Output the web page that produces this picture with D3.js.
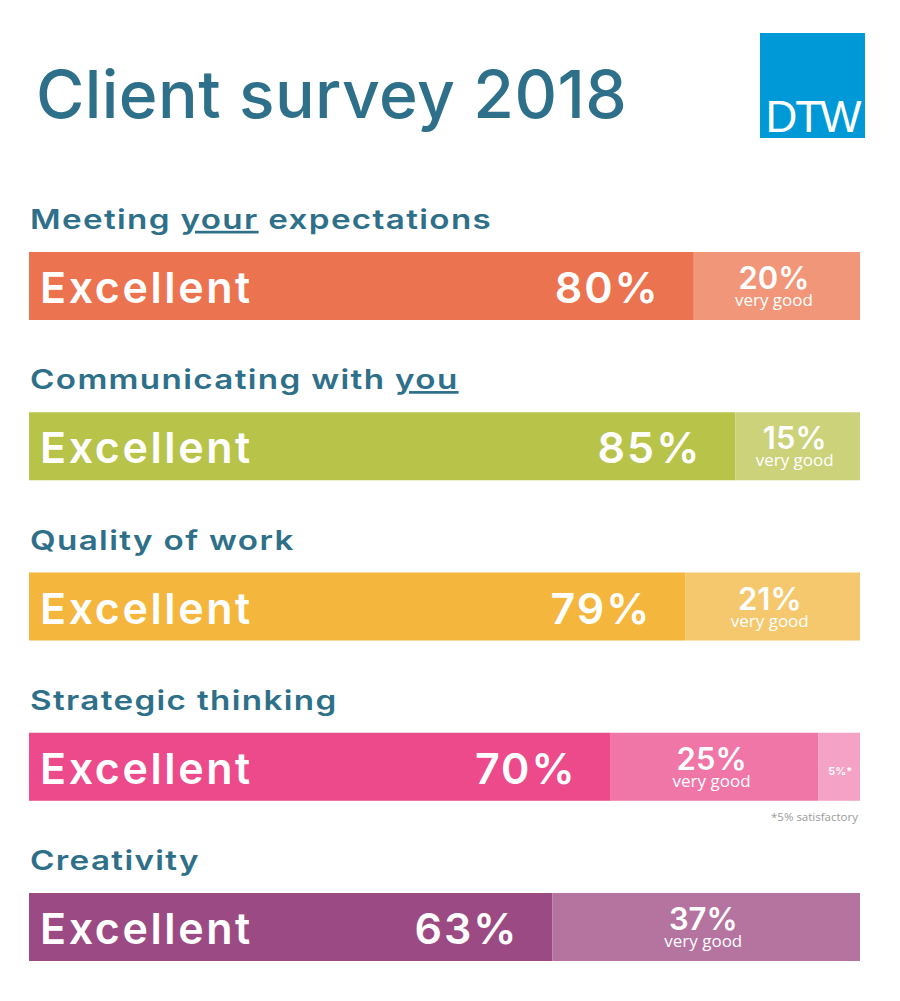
<!DOCTYPE html>
<html><head><meta charset="utf-8">
<script src="https://cdn.jsdelivr.net/npm/d3@7"></script>
<style>
html,body{margin:0;padding:0;background:#fff;}
svg{display:block;}
</style></head>
<body>
<svg id="chart" width="900" height="1001"></svg>
<script>
// ---- data ----
const title = "Client survey 2018";
const categories = ["Meeting your expectations", "Communicating with you", "Quality of work", "Strategic thinking", "Creativity"];
const underlinedWord = ["your", "you", null, null, null];
const excellent = [80, 85, 79, 70, 63];
const veryGood = [20, 15, 21, 25, 37];
const satisfactory = [0, 0, 0, 5, 0];
const mainColors = ["#ec7350", "#b8c34a", "#f4b63c", "#ec4a8b", "#9c4a83"];
const lightColors = ["#f19678", "#cbd27a", "#f6c86d", "#f076a8", "#b5739f"];
const lighterColors = ["#f6b79f", "#dde3a8", "#f9dca0", "#f4a3c6", "#d3a5c4"];
const footnote = "*5% satisfactory";

const svg = d3.select("#chart");
const teal = "#2e7089";

// title
svg.append("text").attr("x", 36).attr("y", 118)
  .attr("font-family", "Inter, 'Liberation Sans', sans-serif").attr("font-weight", 500)
  .attr("font-size", 66).attr("fill", teal).attr("letter-spacing", 0.4).text(title);

// logo
svg.append("rect").attr("x", 760).attr("y", 33).attr("width", 105).attr("height", 105).attr("fill", "#0099d8");
svg.append("text").attr("x", 812.5).attr("y", 132).attr("text-anchor", "middle")
  .attr("font-family", "'Liberation Sans', Arial, sans-serif").attr("font-weight", 300)
  .attr("font-size", 44).attr("fill", "#fff").attr("letter-spacing", -2).text("DTW");

// scales
const x = d3.scaleLinear().domain([0, 100]).range([29, 860]);
const row = d3.scaleBand().domain(categories).range([172, 172 + 5 * 160.25]);
const barH = 68;

const rows = categories.map((c, i) => ({c, i, ex: excellent[i], vg: veryGood[i], sa: satisfactory[i]}));
const g = svg.selectAll("g.row").data(rows).join("g").attr("class", "row")
  .attr("transform", d => `translate(0,${row(d.c)})`);

// subtitles (wide geometric look: horizontally stretched)
g.each(function(d) {
  const t = d3.select(this).append("text").attr("transform", "translate(30,57) scale(1.23,1)")
    .attr("font-family", "Inter, 'Open Sans', sans-serif").attr("font-weight", 600)
    .attr("font-size", 27).attr("fill", teal).attr("letter-spacing", 1.1);
  const w = underlinedWord[d.i];
  if (w) {
    const idx = d.c.lastIndexOf(w);
    const before = d.c.slice(0, idx), after = d.c.slice(idx + w.length);
    t.append("tspan").text(before);
    t.append("tspan").attr("text-decoration", "underline").text(w);
    if (after) t.append("tspan").text(after);
  } else t.text(d.c);
});

// segments
g.append("rect").attr("x", x(0)).attr("y", 80).attr("height", barH)
  .attr("width", d => x(d.ex) - x(0)).attr("fill", d => mainColors[d.i]);
g.append("rect").attr("x", d => x(d.ex)).attr("y", 80).attr("height", barH)
  .attr("width", d => x(d.ex + d.vg) - x(d.ex)).attr("fill", d => lightColors[d.i]);
g.filter(d => d.sa > 0).append("rect").attr("x", d => x(d.ex + d.vg)).attr("y", 80).attr("height", barH)
  .attr("width", d => x(d.ex + d.vg + d.sa) - x(d.ex + d.vg)).attr("fill", d => lighterColors[d.i]);

const labelFont = "Inter, Lato, sans-serif";
// "Excellent"
g.append("text").attr("x", 40).attr("y", 131)
  .attr("font-family", labelFont).attr("font-weight", 600).attr("font-size", 43)
  .attr("fill", "#fff").attr("letter-spacing", 2.6).text("Excellent");
// main percent
g.append("text").attr("x", d => x(d.ex) - 34).attr("y", 131).attr("text-anchor", "end")
  .attr("font-family", labelFont).attr("font-weight", 600).attr("font-size", 43)
  .attr("fill", "#fff").attr("letter-spacing", 2).text(d => d.ex + "%");
// very good percent
g.append("text").attr("x", d => (x(d.ex) + x(d.ex + d.vg)) / 2 - 3).attr("y", 117).attr("text-anchor", "middle")
  .attr("font-family", labelFont).attr("font-weight", 600).attr("font-size", 31)
  .attr("fill", "#fff").text(d => d.vg + "%");
g.append("text").attr("x", d => (x(d.ex) + x(d.ex + d.vg)) / 2 - 3).attr("y", 134).attr("text-anchor", "middle")
  .attr("font-family", "'Open Sans', sans-serif").attr("font-weight", 400).attr("font-size", 17)
  .attr("fill", "#fff").text("very good");
// satisfactory
g.filter(d => d.sa > 0).append("text")
  .attr("x", d => (x(d.ex + d.vg) + x(d.ex + d.vg + d.sa)) / 2 + 1).attr("y", 122).attr("text-anchor", "middle")
  .attr("font-family", labelFont).attr("font-weight", 600).attr("font-size", 11)
  .attr("fill", "#fff").text(d => d.sa + "%*");
g.filter(d => d.sa > 0).append("text")
  .attr("x", x(100) - 2).attr("y", 168).attr("text-anchor", "end")
  .attr("font-family", "'Open Sans', sans-serif").attr("font-size", 11.5)
  .attr("fill", "#9a9a9a").text(footnote);
</script>
</body></html>
